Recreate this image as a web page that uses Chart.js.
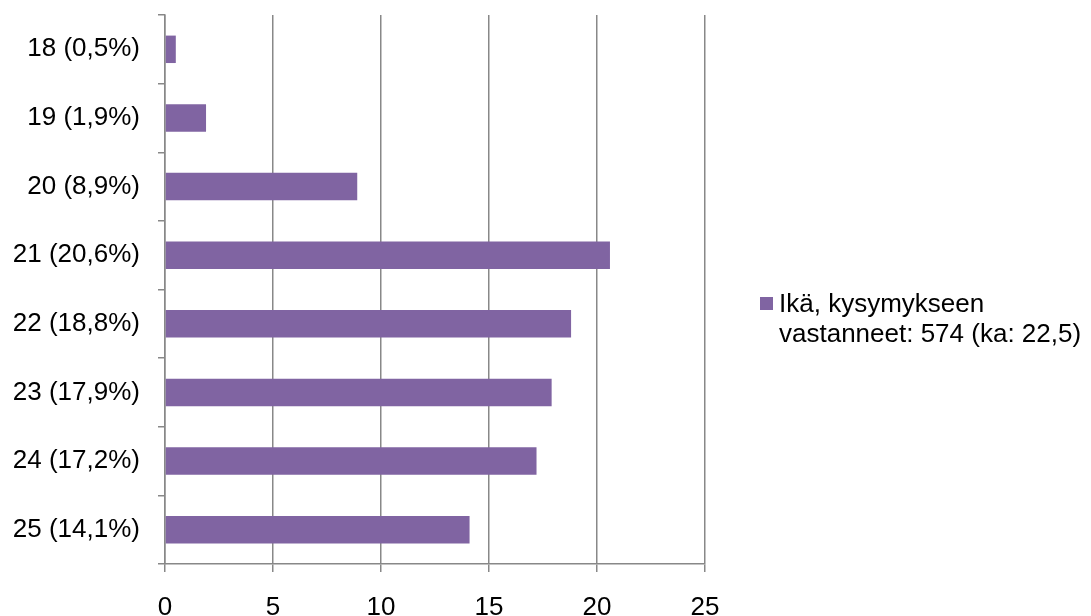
<!DOCTYPE html>
<html>
<head>
<meta charset="utf-8">
<script src="https://cdn.jsdelivr.net/npm/chart.js@4.4.0/dist/chart.umd.min.js"></script>
<style>
  html, body { margin: 0; padding: 0; background: #ffffff; }
  #wrap { position: relative; width: 1091px; height: 616px; }
</style>
</head>
<body>
<div id="wrap"><canvas id="c"></canvas></div>
<script>
const categories = ['18 (0,5%)', '19 (1,9%)', '20 (8,9%)', '21 (20,6%)', '22 (18,8%)', '23 (17,9%)', '24 (17,2%)', '25 (14,1%)'];
const values = [0.5, 1.9, 8.9, 20.6, 18.8, 17.9, 17.2, 14.1];
const legendLines = ['Ikä, kysymykseen', 'vastanneet: 574 (ka: 22,5)'];
const xTicks = [0, 5, 10, 15, 20, 25];

const FONT = '"Liberation Sans", Arial, sans-serif';
const GRID = '#888888';
const BAR = '#8064A2';

const legendPlugin = {
  id: 'sideLegend',
  afterDraw(chart) {
    const ctx = chart.ctx;
    const ds = chart.data.datasets[0];
    ctx.save();
    ctx.fillStyle = ds.backgroundColor;
    ctx.fillRect(760, 297, 13, 13);
    ctx.fillStyle = '#000000';
    ctx.font = '26px ' + FONT;
    ctx.textAlign = 'left';
    ctx.textBaseline = 'alphabetic';
    legendLines.forEach((line, i) => {
      ctx.fillText(line, 779, 312 + i * 30);
    });
    ctx.restore();
  }
};

new Chart(document.getElementById('c'), {
  type: 'bar',
  data: {
    labels: categories,
    datasets: [{
      label: legendLines.join(' '),
      data: values,
      backgroundColor: BAR,
      borderWidth: 0,
      categoryPercentage: 1,
      barPercentage: 0.4
    }]
  },
  options: {
    indexAxis: 'y',
    responsive: true,
    maintainAspectRatio: false,
    animation: false,
    layout: { padding: { top: 15, right: 386, bottom: 0, left: 0 } },
    plugins: {
      legend: { display: false },
      tooltip: { enabled: false },
      title: { display: false }
    },
    scales: {
      x: {
        type: 'linear',
        min: 0,
        max: 25,
        afterBuildTicks(scale) { scale.ticks = xTicks.map(v => ({ value: v })); },
        afterFit(scale) { scale.height = 52; scale.paddingLeft = 0; scale.paddingRight = 0; },
        grid: { color: GRID, lineWidth: 1.5, tickLength: 8, drawTicks: true, drawOnChartArea: true },
        border: { display: true, color: GRID, width: 1.5 },
        ticks: { color: '#000000', font: { family: FONT, size: 26 }, padding: 20, maxRotation: 0 }
      },
      y: {
        type: 'category',
        afterFit(scale) { scale.width = 165; scale.paddingTop = 0; scale.paddingBottom = 0; },
        grid: { color: GRID, lineWidth: 1.5, tickLength: 7, drawTicks: true, drawOnChartArea: false, offset: true },
        border: { display: true, color: GRID, width: 1.5 },
        ticks: { color: '#000000', font: { family: FONT, size: 26 }, padding: 18 }
      }
    }
  },
  plugins: [legendPlugin]
});
</script>
</body>
</html>
